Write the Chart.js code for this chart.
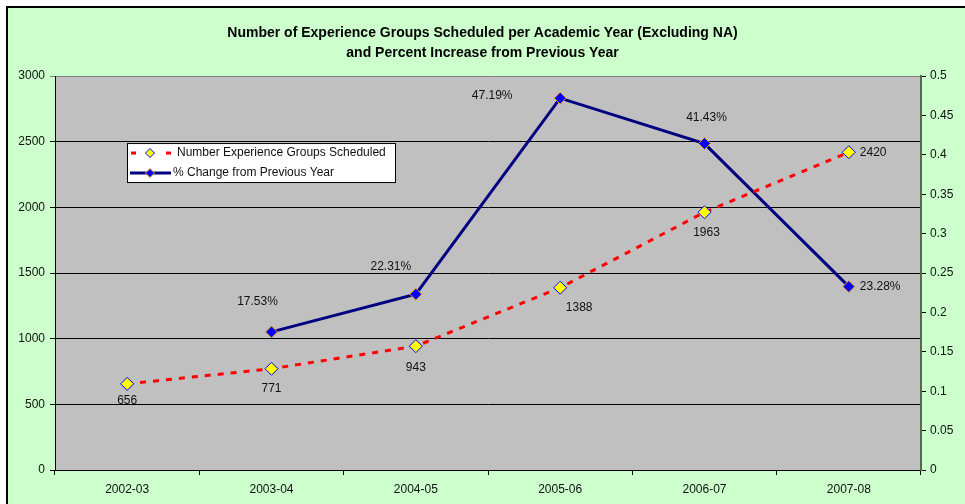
<!DOCTYPE html>
<html>
<head>
<meta charset="utf-8">
<script src="https://cdn.jsdelivr.net/npm/chart.js@4.4.0/dist/chart.umd.min.js"></script>
<style>
  html, body { margin: 0; padding: 0; background: #fff; }
  canvas { display: block; }
</style>
</head>
<body>
<canvas id="groupsChart" width="965" height="504"></canvas>
<script>
// chart data
var years = ['2002-03', '2003-04', '2004-05', '2005-06', '2006-07', '2007-08'];
var groupsScheduled = [656, 771, 943, 1388, 1963, 2420];
var pctChange = [null, 0.1753, 0.2231, 0.4719, 0.4143, 0.2328];
var titleLines = [
    'Number of Experience Groups Scheduled per Academic Year (Excluding NA)',
    'and Percent Increase from Previous Year'
];
var countLabel = 'Number Experience Groups Scheduled';
var pctLabel = '% Change from Previous Year';

var FONT = "'Liberation Sans', Arial, sans-serif";

// green frame + grey plot area
var backgroundPlugin = {
    id: 'background',
    beforeDraw: function (chart) {
        var c = chart.ctx, a = chart.chartArea;
        c.save();
        c.fillStyle = '#ffffff';
        c.fillRect(0, 0, chart.width, chart.height);
        c.fillStyle = '#CCFFCC';
        c.fillRect(7, 7, chart.width - 7, chart.height - 7);
        c.strokeStyle = '#000000';
        c.lineWidth = 2;
        c.beginPath();
        c.moveTo(7, chart.height);
        c.lineTo(7, 7);
        c.lineTo(chart.width, 7);
        c.stroke();
        c.fillStyle = '#C0C0C0';
        c.fillRect(a.left, a.top, a.right - a.left, a.bottom - a.top);
        c.restore();
    }
};

// value labels next to the points
var valueLabelPlugin = {
    id: 'valueLabels',
    afterDatasetsDraw: function (chart, args, opts) {
        var c = chart.ctx;
        c.save();
        c.font = '12px ' + FONT;
        c.fillStyle = '#111';
        c.textBaseline = 'middle';
        chart.data.datasets.forEach(function (ds, i) {
            var meta = chart.getDatasetMeta(i);
            var offs = opts.offsets[i];
            meta.data.forEach(function (pt, j) {
                var v = ds.data[j];
                if (v === null || pt.skip) return;
                var o = offs[j];
                var txt = i === 0 ? String(v) : (v * 100).toFixed(2) + '%';
                c.textAlign = o[2] || 'center';
                c.fillText(txt, pt.x + o[0], pt.y + o[1]);
            });
        });
        c.restore();
    }
};

function diamond(c, x, y, r, fill, stroke) {
    c.beginPath();
    c.moveTo(x, y - r);
    c.lineTo(x + r, y);
    c.lineTo(x, y + r);
    c.lineTo(x - r, y);
    c.closePath();
    c.fillStyle = fill;
    c.fill();
    c.lineWidth = 1;
    c.strokeStyle = stroke;
    c.stroke();
}

// boxed legend inside the plot area
var boxLegendPlugin = {
    id: 'boxLegend',
    afterDraw: function (chart) {
        var c = chart.ctx, a = chart.chartArea;
        var x = a.left + 72, y = a.top + 67, w = 268, h = 39;
        c.save();
        c.fillStyle = '#fff';
        c.fillRect(x, y, w, h);
        c.strokeStyle = '#000';
        c.lineWidth = 1;
        c.strokeRect(x + 0.5, y + 0.5, w, h);

        var y1 = y + 10, y2 = y + 30;
        c.fillStyle = '#FF0000';
        c.fillRect(x + 4, y1 - 1.5, 5, 3);
        c.fillRect(x + 39, y1 - 1.5, 5, 3);
        diamond(c, x + 23, y1, 4.5, '#FFFF00', '#0000FF');

        c.strokeStyle = '#000080';
        c.lineWidth = 3;
        c.beginPath();
        c.moveTo(x + 3, y2);
        c.lineTo(x + 44, y2);
        c.stroke();
        diamond(c, x + 23, y2, 4.5, '#0000FF', '#FFA500');

        c.fillStyle = '#111';
        c.font = '12px ' + FONT;
        c.textBaseline = 'middle';
        c.textAlign = 'left';
        c.fillText(countLabel, x + 50, y1);
        c.fillText(pctLabel, x + 46, y2);
        c.restore();
    }
};

new Chart(document.getElementById('groupsChart').getContext('2d'), {
    type: 'line',
    data: {
        labels: years,
        datasets: [{
            label: countLabel,
            data: groupsScheduled,
            yAxisID: 'y',
            borderColor: '#FF0000',
            borderWidth: 3,
            borderDash: [6, 7],
            pointStyle: 'rectRot',
            pointRadius: 6.5,
            pointBackgroundColor: '#FFFF00',
            pointBorderColor: '#0000FF',
            pointBorderWidth: 1,
            tension: 0,
            fill: false
        }, {
            label: pctLabel,
            data: pctChange,
            yAxisID: 'y1',
            borderColor: '#000080',
            borderWidth: 3,
            pointStyle: 'rectRot',
            pointRadius: 6,
            pointBackgroundColor: '#0000FF',
            pointBorderColor: '#FFA500',
            pointBorderWidth: 1,
            tension: 0,
            fill: false,
            spanGaps: false
        }]
    },
    options: {
        responsive: false,
        animation: false,
        layout: { padding: 0 },
        plugins: {
            legend: { display: false },
            tooltip: { enabled: false },
            title: {
                display: true,
                text: titleLines,
                color: '#000',
                font: { family: FONT, size: 14, weight: 'bold', lineHeight: 1.43 },
                padding: { top: 23, bottom: 13 }
            },
            valueLabels: {
                offsets: [
                    [[0, 17], [0, 20], [0, 22], [19, 20], [2, 20], [11, 0, 'left']],
                    [null, [-14, -30], [-25, -28], [-68, -2], [2, -26], [11, 0, 'left']]
                ]
            }
        },
        scales: {
            x: {
                offset: true,
                grid: { offset: true, drawOnChartArea: false, drawTicks: true, tickLength: 5, color: '#000' },
                border: { display: true, color: '#000', width: 1 },
                ticks: { color: '#111', font: { family: FONT, size: 12 }, padding: 7, maxRotation: 0 },
                afterFit: function (s) { s.height = 34; }
            },
            y: {
                position: 'left',
                min: 0, max: 3000,
                ticks: {
                    stepSize: 500, color: '#111', font: { family: FONT, size: 12 }, padding: 5,
                    callback: function (v) { return String(v); }
                },
                grid: {
                    color: function (ctx) { return ctx.tick && ctx.tick.value === 3000 ? '#808080' : '#000'; },
                    lineWidth: 1, tickLength: 5
                },
                border: { display: true, color: '#000', width: 1 },
                afterFit: function (s) { s.width = 55; }
            },
            y1: {
                position: 'right',
                min: 0, max: 0.5,
                ticks: {
                    stepSize: 0.05, color: '#111', font: { family: FONT, size: 12 }, padding: 4,
                    callback: function (v) { return String(Math.round(v * 100) / 100); }
                },
                grid: { drawOnChartArea: false, tickLength: 5, color: '#000' },
                border: { display: true, color: '#4E6B4E', width: 2 },
                afterFit: function (s) { s.width = 44; }
            }
        }
    },
    plugins: [backgroundPlugin, valueLabelPlugin, boxLegendPlugin]
});
</script>
</body>
</html>
